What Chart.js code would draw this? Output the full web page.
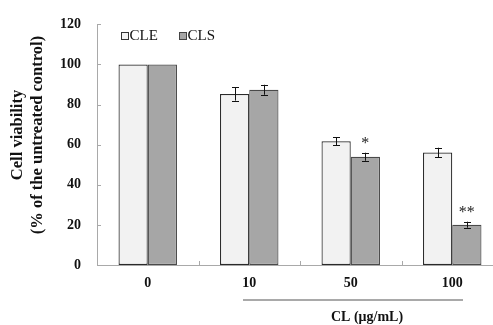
<!DOCTYPE html>
<html>
<head>
<meta charset="utf-8">
<script src="https://cdn.jsdelivr.net/npm/chart.js@4/dist/chart.umd.min.js"></script>
<style>
html,body{margin:0;padding:0;background:#fff;overflow:hidden;}
#wrap{position:relative;width:510px;height:325px;}
</style>
</head>
<body>
<div id="wrap"><canvas id="c" width="510" height="325"></canvas></div>
<script>
const categories = ['0', '10', '50', '100'];
const cleValues = [100, 85.3, 61.7, 56.1];
const clsValues = [100, 87.4, 54.0, 20.1];
const cleErrors = [0, 3.3, 2.0, 2.4];
const clsErrors = [0, 2.5, 2.0, 1.5];
const significance = ['', '', '*', '**']; // on CLS bars
const seriesNames = ['CLE', 'CLS'];
const yTitleLines = ['Cell viability', '(% of the untreated control)'];
const xTitle = 'CL (\u03bcg/mL)';

const SERIF = '"Liberation Serif", "Times New Roman", serif';
const AXIS_COLOR = '#a9a9a9';

const overlay = {
  id: 'overlay',
  afterDatasetsDraw(chart) {
    const ctx = chart.ctx;
    const x = chart.scales.x, y = chart.scales.y;
    const area = chart.chartArea;
    ctx.save();
    // inner tick marks
    ctx.strokeStyle = AXIS_COLOR;
    ctx.lineWidth = 1;
    y.ticks.forEach(t => {
      const py = Math.round(y.getPixelForValue(t.value)) + 0.5;
      ctx.beginPath(); ctx.moveTo(area.left, py); ctx.lineTo(area.left + 4, py); ctx.stroke();
    });
    for (let i = 1; i < categories.length; i++) {
      const px = Math.round((x.getPixelForValue(i - 1) + x.getPixelForValue(i)) / 2) + 0.5;
      ctx.beginPath(); ctx.moveTo(px, area.bottom); ctx.lineTo(px, area.bottom - 4); ctx.stroke();
    }
    // error bars
    ctx.strokeStyle = '#111';
    ctx.lineWidth = 1;
    [cleErrors, clsErrors].forEach((errs, di) => {
      const meta = chart.getDatasetMeta(di);
      const vals = di === 0 ? cleValues : clsValues;
      meta.data.forEach((bar, i) => {
        if (!errs[i]) return;
        const cx = Math.round(bar.x) + 0.5;
        const top = y.getPixelForValue(vals[i] + errs[i]);
        const bot = y.getPixelForValue(vals[i] - errs[i]);
        ctx.beginPath();
        ctx.moveTo(cx, top); ctx.lineTo(cx, bot);
        ctx.moveTo(cx - 3.5, Math.round(top) + 0.5); ctx.lineTo(cx + 3.5, Math.round(top) + 0.5);
        ctx.moveTo(cx - 3.5, Math.round(bot) + 0.5); ctx.lineTo(cx + 3.5, Math.round(bot) + 0.5);
        ctx.stroke();
      });
    });
    // significance stars
    ctx.fillStyle = '#222';
    ctx.font = '16px ' + SERIF;
    ctx.textAlign = 'center';
    ctx.textBaseline = 'middle';
    const m1 = chart.getDatasetMeta(1);
    significance.forEach((s, i) => {
      if (!s) return;
      const bar = m1.data[i];
      const top = y.getPixelForValue(clsValues[i] + clsErrors[i]);
      ctx.fillText(s, bar.x, top - 9);
    });
    // legend
    ctx.font = '15px ' + SERIF;
    ctx.textAlign = 'left';
    ctx.textBaseline = 'middle';
    const legend = [
      {x: 121, fill: '#f2f2f2', stroke: '#333'},
      {x: 179, fill: '#a6a6a6', stroke: '#444'}
    ];
    legend.forEach((l, i) => {
      ctx.fillStyle = l.fill;
      ctx.fillRect(l.x + 0.5, 32.5, 7, 7);
      ctx.strokeStyle = l.stroke;
      ctx.lineWidth = 1;
      ctx.strokeRect(l.x + 0.5, 32.5, 7, 7);
      ctx.fillStyle = '#111';
      ctx.fillText(seriesNames[i], l.x + 8.5, 36.5);
    });
    // x title bracket line and title
    ctx.strokeStyle = '#8c8c8c';
    ctx.lineWidth = 1.5;
    ctx.beginPath(); ctx.moveTo(243, 300); ctx.lineTo(463, 300); ctx.stroke();
    ctx.fillStyle = '#111';
    ctx.font = 'bold 14px ' + SERIF;
    ctx.textAlign = 'center';
    ctx.fillText(xTitle, 367, 317);
    // y title
    ctx.save();
    ctx.translate(0, 135);
    ctx.rotate(-Math.PI / 2);
    ctx.font = 'bold 16.5px ' + SERIF;
    ctx.textAlign = 'center';
    ctx.textBaseline = 'middle';
    ctx.fillText(yTitleLines[0], 0, 18);
    ctx.fillText(yTitleLines[1], 0, 38);
    ctx.restore();
    ctx.restore();
  }
};

new Chart(document.getElementById('c'), {
  type: 'bar',
  data: {
    labels: categories,
    datasets: [
      {label: seriesNames[0], data: cleValues, backgroundColor: '#f2f2f2', borderColor: '#2a2a2a', borderWidth: 1.2, borderSkipped: false},
      {label: seriesNames[1], data: clsValues, backgroundColor: '#a6a6a6', borderColor: '#4a4a4a', borderWidth: 1.2, borderSkipped: false}
    ]
  },
  options: {
    responsive: false,
    animation: false,
    devicePixelRatio: 1,
    layout: {padding: {left: 0, top: 22, right: 7, bottom: 0}},
    plugins: {legend: {display: false}, tooltip: {enabled: false}, title: {display: false}},
    datasets: {bar: {categoryPercentage: 0.576, barPercentage: 1.0}},
    scales: {
      x: {
        grid: {display: false, drawTicks: false},
        border: {display: true, color: AXIS_COLOR, width: 1},
        ticks: {color: '#111', font: {family: SERIF, size: 14, weight: 'bold'}, padding: 10, maxRotation: 0},
        afterFit(s) { s.height = 60; }
      },
      y: {
        min: 0, max: 120,
        grid: {display: false, drawTicks: false},
        border: {display: true, color: AXIS_COLOR, width: 1},
        ticks: {stepSize: 20, color: '#111', font: {family: SERIF, size: 14, weight: 'bold'}, padding: 16},
        afterFit(s) { s.width = 97; }
      }
    }
  },
  plugins: [overlay]
});
</script>
</body>
</html>
